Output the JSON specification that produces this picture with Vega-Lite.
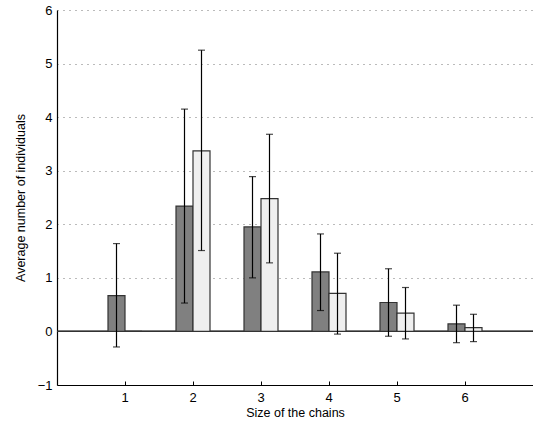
{
  "$schema": "https://vega.github.io/schema/vega-lite/v6.json",
  "width": 476,
  "height": 375,
  "autosize": {"type": "none"},
  "padding": {"left": 57, "top": 10, "right": 0, "bottom": 43},
  "background": "white",
  "config": {
    "view": {"stroke": null},
    "font": "Liberation Sans",
    "axis": {"labelFont": "Liberation Sans", "titleFont": "Liberation Sans", "labelFontSize": 13, "titleFontSize": 12.5, "titleFontWeight": "normal", "labelColor": "#000", "titleColor": "#000", "domainColor": "#000", "tickColor": "#000"}
  },
  "data": {
    "values": [
      {"size": "1", "series": "A", "mean": 0.67, "lo": -0.29, "hi": 1.64},
      {"size": "1", "series": "B", "mean": 0.0, "lo": null, "hi": null},
      {"size": "2", "series": "A", "mean": 2.34, "lo": 0.53, "hi": 4.15},
      {"size": "2", "series": "B", "mean": 3.37, "lo": 1.51, "hi": 5.25},
      {"size": "3", "series": "A", "mean": 1.95, "lo": 1.0, "hi": 2.89},
      {"size": "3", "series": "B", "mean": 2.48, "lo": 1.28, "hi": 3.68},
      {"size": "4", "series": "A", "mean": 1.11, "lo": 0.39, "hi": 1.82},
      {"size": "4", "series": "B", "mean": 0.71, "lo": -0.05, "hi": 1.46},
      {"size": "5", "series": "A", "mean": 0.54, "lo": -0.09, "hi": 1.17},
      {"size": "5", "series": "B", "mean": 0.34, "lo": -0.14, "hi": 0.82},
      {"size": "6", "series": "A", "mean": 0.14, "lo": -0.21, "hi": 0.49},
      {"size": "6", "series": "B", "mean": 0.07, "lo": -0.19, "hi": 0.32}
    ]
  },
  "encoding": {
    "x": {
      "field": "size", "type": "ordinal",
      "scale": {"paddingInner": 0, "paddingOuter": 0.5},
      "axis": {"title": "Size of the chains", "labelAngle": 0, "ticks": true, "tickSize": -4, "tickWidth": 1, "labelPadding": 10, "titlePadding": 2, "domainWidth": 1.2}
    },
    "xOffset": {"field": "series", "type": "nominal", "scale": {"paddingInner": 0, "paddingOuter": 1}}
  },
  "layer": [
    {
      "mark": {"type": "rule", "color": "#333", "strokeWidth": 1},
      "encoding": {"y": {"datum": 0}, "x": null, "xOffset": null}
    },
    {
      "mark": {"type": "bar", "stroke": "#333", "strokeWidth": 1.2},
      "encoding": {
        "y": {
          "field": "mean", "type": "quantitative",
          "scale": {"domain": [-1, 6], "nice": false, "zero": false},
          "axis": {"title": "Average number of individuals", "values": [-1, 0, 1, 2, 3, 4, 5, 6], "format": "d", "grid": true, "gridDash": [1, 5], "gridColor": "#777", "gridWidth": 1, "tickSize": 0, "labelPadding": 5, "titlePadding": 10, "domainWidth": 1.2}
        },
        "fill": {"field": "series", "type": "nominal", "scale": {"domain": ["A", "B"], "range": ["#808080", "#efefef"]}, "legend": null}
      }
    },
    {
      "mark": {"type": "rule", "color": "#000", "strokeWidth": 1.2},
      "encoding": {
        "y": {"field": "lo", "type": "quantitative"},
        "y2": {"field": "hi"}
      }
    },
    {
      "mark": {"type": "tick", "color": "#000", "thickness": 1.2, "size": 7, "orient": "horizontal"},
      "encoding": {"y": {"field": "lo", "type": "quantitative"}}
    },
    {
      "mark": {"type": "tick", "color": "#000", "thickness": 1.2, "size": 7, "orient": "horizontal"},
      "encoding": {"y": {"field": "hi", "type": "quantitative"}}
    }
  ]
}
